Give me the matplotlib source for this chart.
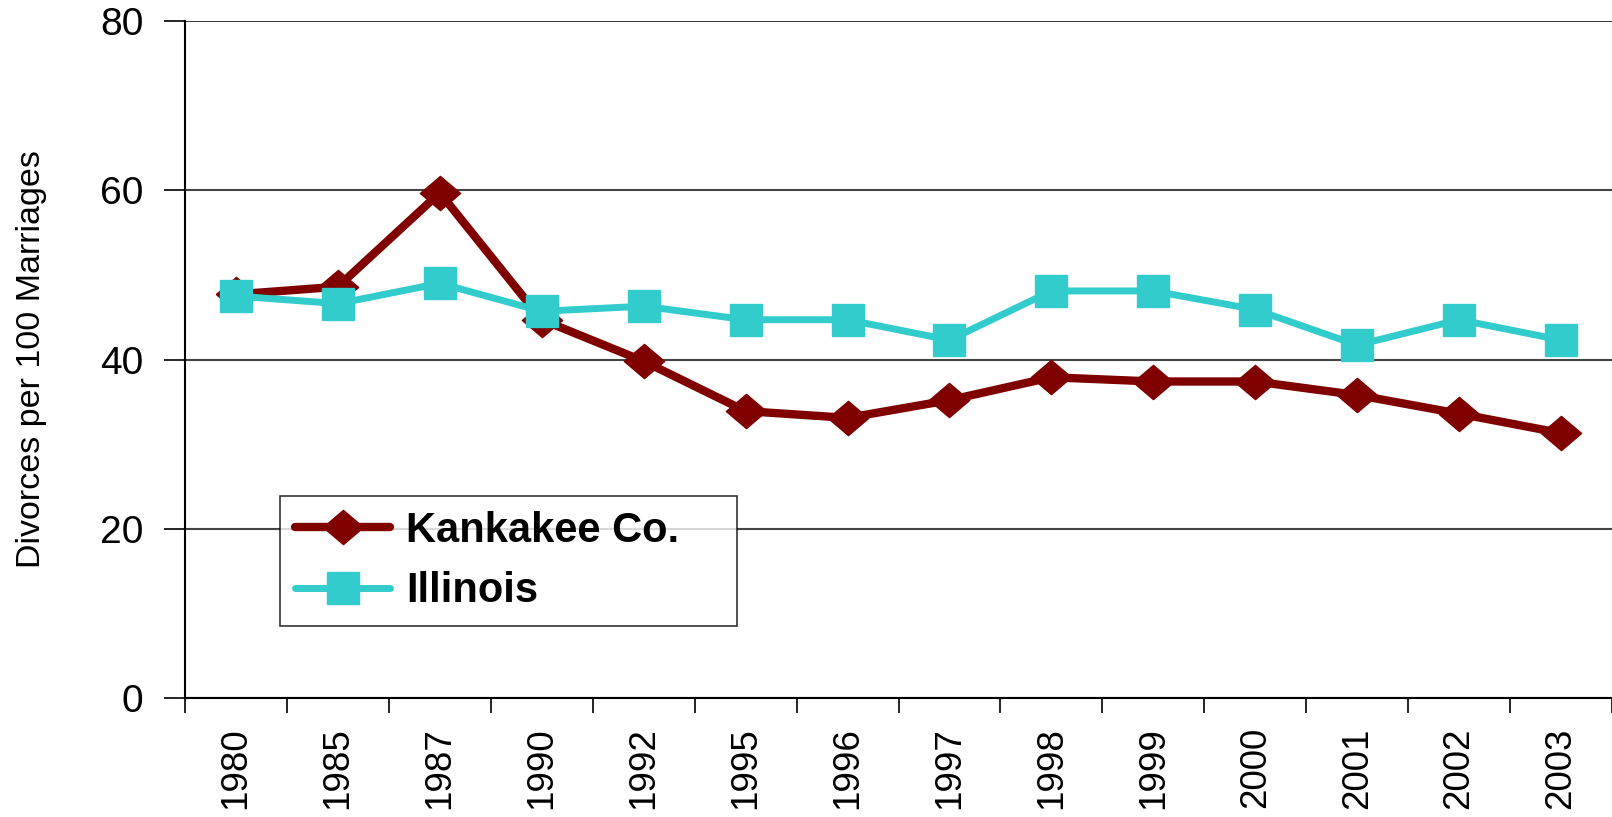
import matplotlib
matplotlib.use("Agg")
import matplotlib.pyplot as plt
from matplotlib.path import Path
from matplotlib.ticker import FixedLocator

years = ["1980", "1985", "1987", "1990", "1992", "1995", "1996",
         "1997", "1998", "1999", "2000", "2001", "2002", "2003"]
kankakee = [47.7, 48.6, 59.7, 44.7, 39.8, 33.9, 33.1,
            35.2, 37.9, 37.4, 37.4, 35.8, 33.6, 31.3]
illinois = [47.5, 46.6, 49.0, 45.7, 46.3, 44.7, 44.7,
            42.3, 48.1, 48.1, 45.9, 41.7, 44.7, 42.3]

plt.rcParams["font.family"] = ["Liberation Sans", "DejaVu Sans"]

# slightly flattened diamond like the original
diamond = Path([(-1, 0), (0, 0.85), (1, 0), (0, -0.85), (-1, 0)],
               [Path.MOVETO, Path.LINETO, Path.LINETO, Path.LINETO, Path.CLOSEPOLY])

fig = plt.figure(figsize=(16.12, 8.17), dpi=100)
ax = fig.add_axes([185 / 1612, 1 - 698 / 817, 1 - 185 / 1612, (698 - 21) / 817])

x = list(range(len(years)))
ax.plot(x, kankakee, color="#800000", lw=6, marker=diamond, markersize=29,
        solid_capstyle="round", label="Kankakee Co.")
ax.plot(x, illinois, color="#33CCCC", lw=5, marker="s", markersize=23,
        solid_capstyle="round", label="Illinois")

ax.set_xlim(-0.5, len(years) - 0.5)
ax.set_ylim(0, 80)
ax.set_yticks([0, 20, 40, 60, 80])
ax.yaxis.grid(True, color="#444444", lw=1.5)
ax.set_axisbelow(True)

ax.set_xticks(x)
ax.set_xticklabels(years, rotation=90, fontsize=26.5)
ax.xaxis.set_minor_locator(FixedLocator([i - 0.5 for i in range(len(years) + 1)]))
ax.tick_params(axis="x", which="major", length=0, pad=21)
ax.tick_params(axis="x", which="minor", length=11, width=1.2, color="black")
ax.tick_params(axis="y", length=15, width=1.2, labelsize=28, pad=15)

for s in ["top", "right"]:
    ax.spines[s].set_visible(False)
ax.spines["left"].set_linewidth(1.5)
ax.spines["bottom"].set_linewidth(1.5)

ax.set_ylabel("Divorces per 100 Marriages", fontsize=24.5)
ax.yaxis.set_label_coords(-0.097, 0.5)

leg = ax.legend(loc="upper left",
                bbox_to_anchor=(280 / 1612, 1 - 623 / 817, 457 / 1612, 127 / 817),
                bbox_transform=fig.transFigure, mode="expand", borderaxespad=0,
                frameon=True, fancybox=False, edgecolor="black",
                prop={"weight": "bold", "size": 30}, handlelength=2.3,
                handletextpad=0.37, labelspacing=0.5, borderpad=0.35)
leg.get_frame().set_linewidth(1.2)

fig.savefig("out.png", dpi=100)
